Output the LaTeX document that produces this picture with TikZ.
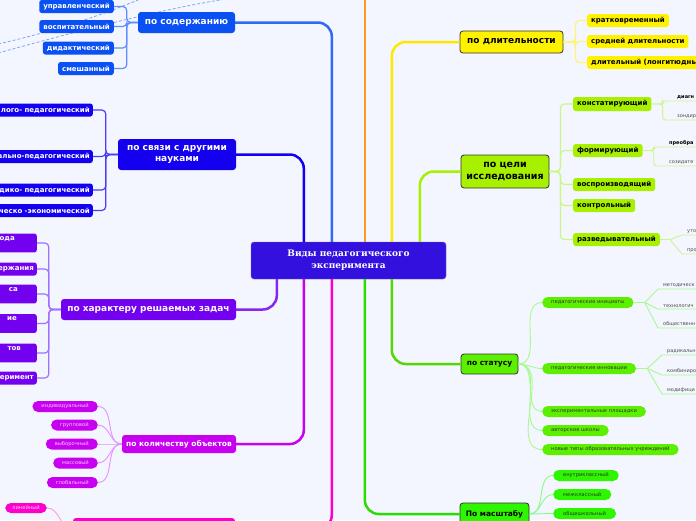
\documentclass[tikz,border=0pt]{standalone}
\usepackage{fontspec}
\setmainfont{DejaVu Sans}
\newfontfamily\rootfont{DejaVu Serif}

\definecolor{bgc}{HTML}{F3F6FE}
\definecolor{rootc}{HTML}{3310DD}
\definecolor{cblue}{HTML}{0A50F2}
\definecolor{cbluel}{HTML}{5E8EFF}
\definecolor{csci}{HTML}{1400EE}
\definecolor{cscil}{HTML}{4A3CF4}
\definecolor{cviol}{HTML}{7300EE}
\definecolor{cvioll}{HTML}{A070FF}
\definecolor{cmag}{HTML}{C800F0}
\definecolor{cmagl}{HTML}{E590FF}
\definecolor{cpink}{HTML}{FF00CC}
\definecolor{cpinkl}{HTML}{FF9AE6}
\definecolor{corange}{HTML}{FF9A1E}
\definecolor{cyellow}{HTML}{FFF200}
\definecolor{cyellowl}{HTML}{FFF37A}
\definecolor{clime}{HTML}{A6F000}
\definecolor{climel}{HTML}{CCF58A}
\definecolor{cstat}{HTML}{5CF000}
\definecolor{cstatl}{HTML}{A8FA90}
\definecolor{cscale}{HTML}{2EF500}
\definecolor{cscalel}{HTML}{88FA88}
\definecolor{cdash}{HTML}{7FA6F2}

\begin{document}
\begin{tikzpicture}[x=1pt, y=-1pt,
    root/.style={fill=rootc, draw=rootc!70!white, rounded corners=3pt, text=white,
        align=center, minimum width=195pt, minimum height=37pt,
        font=\rootfont\fontsize{9}{12}\selectfont\bfseries},
    topic/.style={rounded corners=3pt, text=white, align=center,
        font=\fontsize{9}{11}\selectfont\bfseries},
    lighttopic/.style={topic, text=black, draw=black!80, line width=0.8pt},
    sub/.style={rounded corners=2.5pt, text=white, minimum height=13pt, inner xsep=4pt,
        inner ysep=0pt, font=\fontsize{7}{9}\selectfont\bfseries},
    cutbox/.style={sub, anchor=east, text width=#1, align=right, inner xsep=3pt},
    pill/.style={rounded corners=5.5pt, minimum height=11pt, inner xsep=9pt, inner ysep=0pt,
        font=\fontsize{5.2}{6}\selectfont},
    twig/.style={anchor=south west, inner xsep=5pt, inner ysep=1.5pt, text width=45pt,
        align=left, text=black!70, font=\fontsize{5}{6}\selectfont},
    trunk/.style={line width=2.5pt, rounded corners=14pt},
    branch/.style={line width=1.2pt, rounded corners=4pt},
    leaf/.style={line width=0.9pt},
]
\useasboundingbox (0,0) rectangle (696,520);
\clip (0,0) rectangle (696,520);
\fill[bgc] (0,0) rectangle (696,520);

% dashed relations (come from outside)
\draw[cdash, line width=0.8pt, dash pattern=on 3pt off 2pt] (-2,53) .. controls (100,25) and (180,5) .. (240,-3);
\draw[cdash, line width=0.8pt, dash pattern=on 3pt off 2pt] (-2,44) .. controls (60,30) and (110,12) .. (145,-3);

% centre
\node[root] (root) at (348.5,260.5) {Виды педагогического\\эксперимента};
\coordinate (otop) at (365,-5);

% по содержанию
\node[topic, fill=cblue, minimum width=97pt, minimum height=21pt] (cont) at (186.5,22.5) {по содержанию};
\node[sub, fill=cblue, anchor=east] (c1) at (114,6.5) {управленческий};
\node[sub, fill=cblue, anchor=east] (c2) at (114,26.5) {воспитательный};
\node[sub, fill=cblue, anchor=east] (c3) at (114,48) {дидактический};
\node[sub, fill=cblue, anchor=east] (c4) at (114,68.5) {смешанный};

% по связи с другими науками
\node[topic, fill=csci, minimum width=118pt, minimum height=31pt] (sci) at (177,154.5) {по связи с другими\\науками};
\node[cutbox=110pt, fill=csci] (k1) at (93,110) {лого- педагогический};
\node[cutbox=110pt, fill=csci] (k2) at (93,156.5) {ально-педагогический};
\node[cutbox=110pt, fill=csci] (k3) at (93,190) {дико- педагогический};
\node[cutbox=110pt, fill=csci] (k4) at (93,210.5) {ческо -экономической};

% по характеру решаемых задач
\node[topic, fill=cviol, minimum width=175pt, minimum height=21pt] (task) at (148.5,309.5) {по характеру решаемых задач};
\node[cutbox=60pt, fill=cviol, inner ysep=3pt] (t1) at (37,243) {ода\rule{19pt}{0pt}\\\mbox{}};
\node[cutbox=60pt, fill=cviol] (t2) at (37,269) {ержания};
\node[cutbox=60pt, fill=cviol, inner ysep=3pt] (t3) at (37,294) {са\rule{16pt}{0pt}\\\mbox{}};
\node[cutbox=60pt, fill=cviol, inner ysep=3pt] (t4) at (37,323.5) {ие\rule{17pt}{0pt}\\\mbox{}};
\node[cutbox=60pt, fill=cviol, inner ysep=3pt] (t5) at (37,353) {тов\rule{13pt}{0pt}\\\mbox{}};
\node[cutbox=60pt, fill=cviol] (t6) at (37,378) {еримент};

% по количеству объектов
\node[topic, fill=cmag, minimum width=114pt, minimum height=18pt, font=\fontsize{7.5}{9}\selectfont\bfseries] (qty) at (179,444) {по количеству объектов};
\node[pill, fill=cmag, text=cmagl!50!white, anchor=east] (q1) at (98,406.5) {индивидуальный};
\node[pill, fill=cmag, text=cmagl!50!white, anchor=east] (q2) at (98,425) {групповой};
\node[pill, fill=cmag, text=cmagl!50!white, anchor=east] (q3) at (98,444) {выборочный};
\node[pill, fill=cmag, text=cmagl!50!white, anchor=east] (q4) at (98,463) {массовый};
\node[pill, fill=cmag, text=cmagl!50!white, anchor=east] (q5) at (98,482.5) {глобальный};

% bottom pink branch
\node[topic, fill=cpink, minimum width=162pt, minimum height=22pt] (pk) at (154,529) {};
\node[pill, fill=cpink, text=cpinkl!50!white, inner xsep=7pt, minimum height=10pt] (lin) at (26,508) {линейный};

% по длительности
\node[lighttopic, fill=cyellow, minimum width=103pt, minimum height=22pt] (dur) at (511.5,42) {по длительности};
\node[sub, fill=cyellow, text=black, anchor=west] (d1) at (587,20.5) {кратковременный};
\node[sub, fill=cyellow, text=black, anchor=west] (d2) at (587,41.5) {средней длительности};
\node[sub, fill=cyellow, text=black, anchor=west, text width=130pt, align=left] (d3) at (587,62.5) {длительный (лонгитюдны};

% по цели исследования
\node[lighttopic, fill=clime, minimum width=88pt, minimum height=33pt, font=\fontsize{9.5}{12}\selectfont\bfseries] (goal) at (505,171.5) {по цели\\исследования};
\node[sub, fill=clime, text=black, anchor=west, minimum height=14pt] (g1) at (573,104) {констатирующий};
\node[sub, fill=clime, text=black, anchor=west] (g2) at (573,150.5) {формирующий};
\node[sub, fill=clime, text=black, anchor=west] (g3) at (573,184.5) {воспроизводящий};
\node[sub, fill=clime, text=black, anchor=west] (g4) at (573,205.5) {контрольный};
\node[sub, fill=clime, text=black, anchor=west] (g5) at (573,239.5) {разведывательный};
\node[twig, text=black, font=\fontsize{5}{6}\selectfont\bfseries] (g1a) at (672,101) {диагн};
\node[twig] (g1b) at (672,120) {зондир};
\node[twig, text=black, font=\fontsize{5}{6}\selectfont\bfseries] (g2a) at (664,147) {преобра};
\node[twig] (g2b) at (664,166) {созидате};
\node[twig] (g5a) at (682,235) {уто};
\node[twig] (g5b) at (682,254) {про};

% по статусу
\node[lighttopic, fill=cstat, minimum width=57pt, minimum height=20pt, font=\fontsize{7.5}{9}\selectfont\bfseries] (stat) at (489.5,364) {по статусу};
\node[pill, fill=cstat, text=black!80, anchor=west] (s1) at (542,302.5) {педагогические инициаты};
\node[pill, fill=cstat, text=black!80, anchor=west] (s2) at (542,368.5) {педагогические инновации};
\node[pill, fill=cstat, text=black!80, anchor=west] (s3) at (542,411.5) {экспериментальные площадки};
\node[pill, fill=cstat, text=black!80, anchor=west] (s4) at (542,430.5) {авторские школы};
\node[pill, fill=cstat, text=black!80, anchor=west] (s5) at (542,449.5) {новые типы образовательных учреждений};
\node[twig] (s1a) at (658,289) {методическ};
\node[twig] (s1b) at (658,309) {технологич};
\node[twig] (s1c) at (658,328) {общественн};
\node[twig] (s2a) at (662,355) {радикальн};
\node[twig] (s2b) at (662,375) {комбиниро};
\node[twig] (s2c) at (662,394) {модифици};

% По масштабу
\node[lighttopic, fill=cscale, minimum width=69pt, minimum height=22pt, font=\fontsize{7.5}{9}\selectfont\bfseries] (scale) at (494.5,514) {По масштабу};
\node[pill, fill=cscale, text=black!80, anchor=west, inner xsep=10pt] (m1) at (553,475.5) {внутриклассный};
\node[pill, fill=cscale, text=black!80, anchor=west, inner xsep=10pt] (m2) at (553,494.5) {межклассный};
\node[pill, fill=cscale, text=black!80, anchor=west, inner xsep=10pt] (m3) at (553,513.5) {общешкольный};

% trunks
\draw[trunk, cblue!85!white] (root.north west) ++(81,0) |- (cont.east);
\draw[trunk, csci] (root.north west) ++(53,0) |- (sci.east);
\draw[trunk, corange] (root.north -| otop) -- (otop);
\draw[trunk, cyellow!90!orange] (root.north west) ++(141,0) |- (dur.west);
\draw[trunk, clime] (root.north west) ++(169,0) |- (goal.west);
\draw[trunk, cviol!85!white] (root.south west) ++(26,0) |- (task.east);
\draw[trunk, cmag] (root.south west) ++(53,0) |- (qty.east);
\draw[trunk, cpink] (root.south west) ++(81,0) |- (pk.east);
\draw[trunk, cscale!90!black] (root.south west) ++(114,0) |- (scale.west);
\draw[trunk, cstat!90!black] (root.south west) ++(141,0) |- (stat.west);

% по содержанию
\draw[branch, cbluel] (cont.west) -- ++(-11,0) |- (c1.east);
\draw[branch, cbluel] (cont.west) -- ++(-11,0) |- (c2.east);
\draw[branch, cbluel] (cont.west) -- ++(-11,0) |- (c3.east);
\draw[branch, cbluel] (cont.west) -- ++(-11,0) |- (c4.east);

% по связи
\draw[branch, cscil] (sci.west) -- ++(-12,0) |- (k1.east);
\draw[branch, cscil] (sci.west) -- ++(-12,0) |- (k2.east);
\draw[branch, cscil] (sci.west) -- ++(-12,0) |- (k3.east);
\draw[branch, cscil] (sci.west) -- ++(-12,0) |- (k4.east);

% по характеру
\draw[branch, cvioll] (task.west) -- ++(-12,0) |- (t1.east);
\draw[branch, cvioll] (task.west) -- ++(-12,0) |- (t2.east);
\draw[branch, cvioll] (task.west) -- ++(-12,0) |- (t3.east);
\draw[branch, cvioll] (task.west) -- ++(-12,0) |- (t4.east);
\draw[branch, cvioll] (task.west) -- ++(-12,0) |- (t5.east);
\draw[branch, cvioll] (task.west) -- ++(-12,0) |- (t6.east);

% по количеству
\draw[leaf, cmagl] (qty.west) to[out=180, in=0] (q1.east);
\draw[leaf, cmagl] (qty.west) to[out=180, in=0] (q2.east);
\draw[leaf, cmagl] (qty.west) to[out=180, in=0] (q3.east);
\draw[leaf, cmagl] (qty.west) to[out=180, in=0] (q4.east);
\draw[leaf, cmagl] (qty.west) to[out=180, in=0] (q5.east);
\draw[leaf, cpinkl] (pk.west) to[out=180, in=0] (lin.east);

% по длительности
\draw[branch, cyellowl] (dur.east) -- ++(12,0) |- (d1.west);
\draw[branch, cyellowl] (dur.east) -- ++(12,0) |- (d2.west);
\draw[branch, cyellowl] (dur.east) -- ++(12,0) |- (d3.west);

% по цели
\draw[branch, climel] (goal.east) -- ++(11,0) |- (g1.west);
\draw[branch, climel] (goal.east) -- ++(11,0) |- (g2.west);
\draw[branch, climel] (goal.east) -- ++(11,0) |- (g3.west);
\draw[branch, climel] (goal.east) -- ++(11,0) |- (g4.west);
\draw[branch, climel] (goal.east) -- ++(11,0) |- (g5.west);
\draw[leaf, climel, rounded corners=3pt] (g1.east) -- ++(11,0) |- (g1a.south east);
\draw[leaf, climel, rounded corners=3pt] (g1.east) -- ++(11,0) |- (g1b.south east);
\draw[leaf, climel, rounded corners=3pt] (g2.east) -- ++(11,0) |- (g2a.south east);
\draw[leaf, climel, rounded corners=3pt] (g2.east) -- ++(11,0) |- (g2b.south east);
\draw[leaf, climel] (g5.east) -- ++(10,0) -- (g5a.south west) -- (g5a.south east);
\draw[leaf, climel] (g5.east) -- ++(10,0) -- (g5b.south west) -- (g5b.south east);

% по статусу
\draw[leaf, cstatl] (stat.east) to[out=0, in=180] (s1.west);
\draw[leaf, cstatl] (stat.east) to[out=0, in=180] (s2.west);
\draw[leaf, cstatl] (stat.east) to[out=0, in=180] (s3.west);
\draw[leaf, cstatl] (stat.east) to[out=0, in=180] (s4.west);
\draw[leaf, cstatl] (stat.east) to[out=0, in=180] (s5.west);
\draw[leaf, cstatl] (s1.east) -- ++(11,0) -- (s1a.south west) -- (s1a.south east);
\draw[leaf, cstatl] (s1.east) -- ++(11,0) -- (s1b.south west) -- (s1b.south east);
\draw[leaf, cstatl] (s1.east) -- ++(11,0) -- (s1c.south west) -- (s1c.south east);
\draw[leaf, cstatl] (s2.east) -- ++(11,0) -- (s2a.south west) -- (s2a.south east);
\draw[leaf, cstatl] (s2.east) -- ++(11,0) -- (s2b.south west) -- (s2b.south east);
\draw[leaf, cstatl] (s2.east) -- ++(11,0) -- (s2c.south west) -- (s2c.south east);

% По масштабу
\draw[leaf, cscalel] (scale.east) to[out=0, in=180] (m1.west);
\draw[leaf, cscalel] (scale.east) to[out=0, in=180] (m2.west);
\draw[leaf, cscalel] (scale.east) to[out=0, in=180] (m3.west);
\end{tikzpicture}
\end{document}
